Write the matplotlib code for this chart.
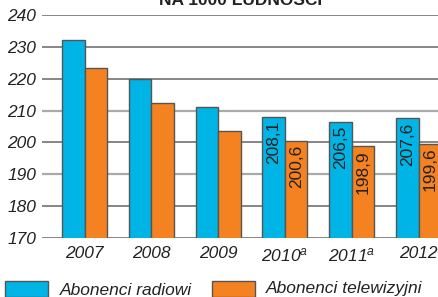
import numpy as np
import matplotlib
matplotlib.use("Agg")
import matplotlib.pyplot as plt
from matplotlib.patches import Rectangle

plt.rcParams['font.family'] = ['Liberation Sans', 'DejaVu Sans']
plt.rcParams['mathtext.fontset'] = 'custom'
plt.rcParams['mathtext.rm'] = 'Liberation Sans:italic'
plt.rcParams['mathtext.it'] = 'Liberation Sans:italic'

# data
years = ['2007', '2008', '2009', '2010$^a$', '2011$^a$', '2012']
radio = [232.0, 219.8, 211.2, 208.1, 206.5, 207.6]
tv = [223.5, 212.3, 203.5, 200.6, 198.9, 199.6]
labelled = [3, 4, 5]   # groups with value labels
yticks = [170, 180, 190, 200, 210, 220, 230, 240]

BLUE = '#00b4e6'
ORANGE = '#f58220'
EDGE = '#555555'

fig = plt.figure(figsize=(4.38, 2.97), dpi=100)
ax = fig.add_axes([42/438, 1-238/297, 1-42/438, (238-15)/297])

x = np.arange(len(years))
w = 0.337
b1 = ax.bar(x - w/2, radio, w, color=BLUE, edgecolor=EDGE, linewidth=1, zorder=3)
b2 = ax.bar(x + w/2, tv, w, color=ORANGE, edgecolor=EDGE, linewidth=1, zorder=3)

ax.set_ylim(170, 240)
ax.set_xlim(-0.636, 5.29)

# horizontal lines
for v in yticks:
    if v in (190, 210):
        ax.axhline(v, color='#aaaaaa', lw=1.6, zorder=1)
    else:
        ax.axhline(v, color='#666666', lw=1.1, zorder=1)

for s in ax.spines.values():
    s.set_visible(False)
ax.set_yticks(yticks)
ax.set_yticklabels([str(v) for v in yticks])
ax.tick_params(axis='y', length=0, pad=4)
ax.set_xticks(x)
ax.set_xticklabels(years)
ax.tick_params(axis='x', length=0, pad=6)
for t in ax.get_xticklabels() + ax.get_yticklabels():
    t.set_fontsize(12.5)
    t.set_fontstyle('italic')
    t.set_color('#222222')

def fmt(v):
    return ('%.1f' % v).replace('.', ',')

for i in labelled:
    ax.annotate(fmt(radio[i]), (x[i] - w/2, radio[i]), xytext=(0, -3),
                textcoords='offset points', rotation=90, ha='center', va='top',
                fontsize=12.5, color='#222222', zorder=4)
    ax.annotate(fmt(tv[i]), (x[i] + w/2, tv[i]), xytext=(0, -3),
                textcoords='offset points', rotation=90, ha='center', va='top',
                fontsize=12.5, color='#222222', zorder=4)

# title (cut off at top)
fig.text(241/438, 1-5/297, 'NA 1000 LUDNOŚCI', ha='center', va='baseline',
         fontsize=12.5, fontweight='bold', color='#222222')

# legend
fig.add_artist(Rectangle((5/438, 0), 43/438, 16/297, transform=fig.transFigure,
                         facecolor=BLUE, edgecolor=EDGE, lw=1))
fig.add_artist(Rectangle((212/438, 0), 43/438, 16/297, transform=fig.transFigure,
                         facecolor=ORANGE, edgecolor=EDGE, lw=1))
fig.text(60/438, 1-295/297, 'Abonenci radiowi', ha='left', va='baseline',
         fontsize=12.5, style='italic', color='#222222')
fig.text(266/438, 1-293/297, 'Abonenci telewizyjni', ha='left', va='baseline',
         fontsize=12.5, style='italic', color='#222222')

fig.savefig('out.png', dpi=100)
